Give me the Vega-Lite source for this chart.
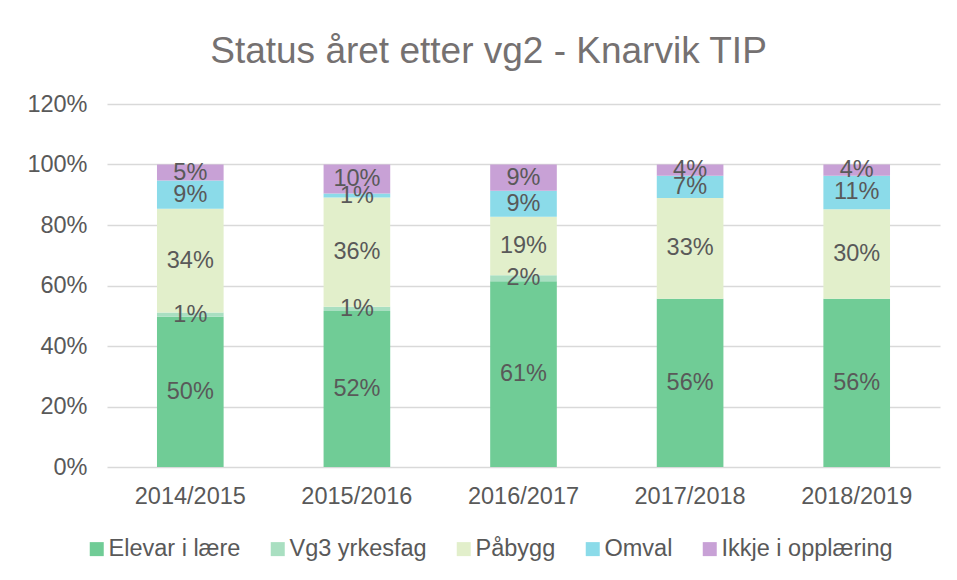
{
  "$schema": "https://vega.github.io/schema/vega-lite/v6.json",
  "autosize": "none",
  "width": 833,
  "height": 363,
  "padding": {"left": 107, "top": 104, "right": 17, "bottom": 113},
  "background": "white",
  "title": {
    "text": "Status året etter vg2 - Knarvik TIP",
    "font": "Liberation Sans",
    "fontSize": 37,
    "fontWeight": "normal",
    "color": "#757171",
    "anchor": "middle",
    "dx": -35,
    "offset": 21
  },
  "data": {
    "values": [
      {"year": "2014/2015", "status": "Elevar i lære", "ord": 1, "value": 0.497},
      {"year": "2014/2015", "status": "Vg3 yrkesfag", "ord": 2, "value": 0.014},
      {"year": "2014/2015", "status": "Påbygg", "ord": 3, "value": 0.343},
      {"year": "2014/2015", "status": "Omval", "ord": 4, "value": 0.093},
      {"year": "2014/2015", "status": "Ikkje i opplæring", "ord": 5, "value": 0.053},
      {"year": "2015/2016", "status": "Elevar i lære", "ord": 1, "value": 0.516},
      {"year": "2015/2016", "status": "Vg3 yrkesfag", "ord": 2, "value": 0.014},
      {"year": "2015/2016", "status": "Påbygg", "ord": 3, "value": 0.361},
      {"year": "2015/2016", "status": "Omval", "ord": 4, "value": 0.013},
      {"year": "2015/2016", "status": "Ikkje i opplæring", "ord": 5, "value": 0.096},
      {"year": "2016/2017", "status": "Elevar i lære", "ord": 1, "value": 0.614},
      {"year": "2016/2017", "status": "Vg3 yrkesfag", "ord": 2, "value": 0.02},
      {"year": "2016/2017", "status": "Påbygg", "ord": 3, "value": 0.193},
      {"year": "2016/2017", "status": "Omval", "ord": 4, "value": 0.086},
      {"year": "2016/2017", "status": "Ikkje i opplæring", "ord": 5, "value": 0.087},
      {"year": "2017/2018", "status": "Elevar i lære", "ord": 1, "value": 0.556},
      {"year": "2017/2018", "status": "Påbygg", "ord": 3, "value": 0.333},
      {"year": "2017/2018", "status": "Omval", "ord": 4, "value": 0.074},
      {"year": "2017/2018", "status": "Ikkje i opplæring", "ord": 5, "value": 0.037},
      {"year": "2018/2019", "status": "Elevar i lære", "ord": 1, "value": 0.556},
      {"year": "2018/2019", "status": "Påbygg", "ord": 3, "value": 0.296},
      {"year": "2018/2019", "status": "Omval", "ord": 4, "value": 0.111},
      {"year": "2018/2019", "status": "Ikkje i opplæring", "ord": 5, "value": 0.037}
    ]
  },
  "transform": [
    {"stack": "value", "groupby": ["year"], "sort": [{"field": "ord", "order": "ascending"}], "as": ["v0", "v1"]},
    {"calculate": "(datum.v0 + datum.v1) / 2", "as": "vmid"}
  ],
  "encoding": {
    "x": {
      "field": "year",
      "type": "nominal",
      "title": null,
      "scale": {"paddingInner": 0.6, "paddingOuter": 0.3},
      "axis": {
        "labelAngle": 0,
        "labelFont": "Liberation Sans",
        "labelFontSize": 23.5,
        "labelColor": "#595959",
        "labelPadding": 17,
        "domain": false,
        "ticks": false,
        "grid": false
      }
    }
  },
  "layer": [
    {
      "mark": {"type": "bar"},
      "encoding": {
        "y": {
          "field": "v0",
          "type": "quantitative",
          "title": null,
          "scale": {"domain": [0, 1.2]},
          "axis": {
            "format": ".0%",
            "values": [0, 0.2, 0.4, 0.6, 0.8, 1.0, 1.2],
            "labelFont": "Liberation Sans",
            "labelFontSize": 23.5,
            "labelColor": "#595959",
            "labelPadding": 20,
            "domain": false,
            "ticks": false,
            "gridColor": "#d9d9d9",
            "gridWidth": 1.3
          }
        },
        "y2": {"field": "v1"},
        "color": {
          "field": "status",
          "type": "nominal",
          "scale": {
            "domain": ["Elevar i lære", "Vg3 yrkesfag", "Påbygg", "Omval", "Ikkje i opplæring"],
            "range": ["#70cc96", "#a9dfc1", "#e2efcb", "#8bdbe9", "#c8a1d6"]
          },
          "legend": {
            "title": null,
            "orient": "none",
            "direction": "horizontal",
            "legendX": -22,
            "legendY": 433,
            "symbolType": "square",
            "symbolSize": 196,
            "symbolStrokeWidth": 0,
            "labelFont": "Liberation Sans",
            "labelFontSize": 23.5,
            "labelColor": "#595959",
            "labelOffset": 0,
            "labelLimit": 400,
            "columnPadding": 25
          }
        }
      }
    },
    {
      "mark": {
        "type": "text",
        "font": "Liberation Sans",
        "fontSize": 23.5,
        "color": "#595959",
        "baseline": "middle",
        "align": "center"
      },
      "encoding": {
        "y": {"field": "vmid", "type": "quantitative"},
        "text": {"field": "value", "type": "quantitative", "format": ".0%"}
      }
    }
  ],
  "config": {
    "view": {"stroke": null}
  }
}
